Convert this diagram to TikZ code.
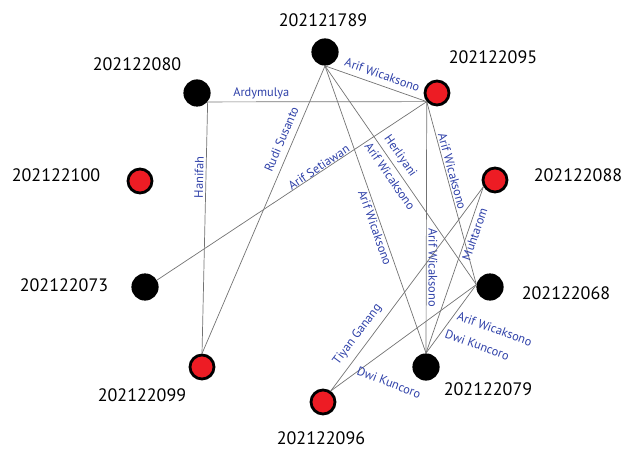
\documentclass[tikz,border=0pt]{standalone}
\usepackage{fontspec}
\setmainfont{PT Sans}
\definecolor{nodered}{RGB}{237,28,36}
\definecolor{namecolor}{RGB}{46,64,168}

\begin{document}
\begin{tikzpicture}[
    person/.style={circle, fill=black, minimum size=0.68cm, inner sep=0pt},
    redperson/.style={circle, fill=nodered, draw=black, line width=2pt, minimum size=0.6cm, inner sep=0pt},
    idlabel/.style={font=\fontsize{12.8}{15}\selectfont},
    link/.style={draw=black!55, line width=0.5pt},
    edgename/.style={text=namecolor, font=\fontsize{8.8}{10}\selectfont, inner sep=0pt, sloped},
    flatname/.style={text=namecolor, font=\fontsize{8.8}{10}\selectfont, inner sep=0pt}
  ]
    \useasboundingbox (0,0) rectangle (15.6,11.2);
    % students
    \node[person] (n789) at (8.125,9.9){};
    \node[person] (n080) at (4.925,8.875){};
    \node[redperson] (n095) at (10.925,8.875){};
    \node[redperson] (n100) at (3.5,6.675){};
    \node[redperson] (n088) at (12.375,6.7){};
    \node[person] (n073) at (3.625,4.025){};
    \node[person] (n068) at (12.25,4.025){};
    \node[redperson] (n099) at (5.05,2.025){};
    \node[person] (n079) at (10.65,2.025){};
    \node[redperson] (n096) at (8.075,1.15){};
    % their numbers
    \node[idlabel] (t789) at (8.075,10.7){202121789};
    \node[idlabel] (t080) at (3.425,9.6){202122080};
    \node[idlabel] (t095) at (12.325,9.775){202122095};
    \node[idlabel] (t100) at (1.4,6.825){202122100};
    \node[idlabel] (t088) at (14.45,6.825){202122088};
    \node[idlabel] (t073) at (1.6,4.075){202122073};
    \node[idlabel] (t068) at (14.15,3.875){202122068};
    \node[idlabel] (t099) at (3.55,1.325){202122099};
    \node[idlabel] (t079) at (12.2,1.475){202122079};
    \node[idlabel] (t096) at (8.025,0.25){202122096};
    % supervisors
    \draw[link] (n080.-40) --node[edgename, pos=0.245, yshift=6pt]{Ardymulya} (n095.-140);
    \draw[link] (n099.north) --node[edgename, pos=0.70, yshift=5pt]{Hanifah} (n080.-40);
    \draw[link] (n099.north) --node[edgename, pos=0.73, yshift=8pt]{Rudi Susanto} (n789.south);
    \draw[link] (n789.south) --node[edgename, pos=0.53, yshift=7.5pt]{Arif Wicaksono} (n095.-140);
    \draw[link] (n073.30) --node[edgename, pos=0.61, yshift=3.5pt]{Arif Setiawan} (n095.-140);
    \draw[link] (n789.south) --node[edgename, pos=0.44, yshift=7.3pt]{Herliyani}
        node[edgename, pos=0.48, yshift=-6.6pt]{Arif Wicaksono} (n068.170);
    \draw[link] (n789.south) --node[edgename, pos=0.556, yshift=-4.6pt]{Arif Wicaksono} (n079.north);
    \draw[link] (n095.-140) --node[flatname, pos=0.66, xshift=4.7pt, rotate=-90]{Arif Wicaksono} (n079.north);
    \draw[link] (n095.-140) --node[edgename, pos=0.39, yshift=4.5pt]{Arif Wicaksono} (n068.170);
    \draw[link] (n079.north) --node[edgename, pos=0.73, yshift=-5.2pt]{Muhtarom} (n088.210);
    \draw[link] (n096.55) --node[edgename, pos=0.24, yshift=8.7pt]{Tiyan Ganang} (n088.210);
    \draw[link] (n096.55) --node[flatname, pos=0.29, xshift=11.4pt, yshift=-15.8pt, rotate=-21]{Dwi Kuncoro} (n068.170);
    \draw[link] (n068.170) --node[flatname, pos=0.3, xshift=23.8pt, yshift=-16.9pt, rotate=-20]{Arif Wicaksono}
        node[flatname, pos=0.3, xshift=11.4pt, yshift=-28.2pt, rotate=-20]{Dwi Kuncoro} (n079.north);
  \end{tikzpicture}
\end{document}
